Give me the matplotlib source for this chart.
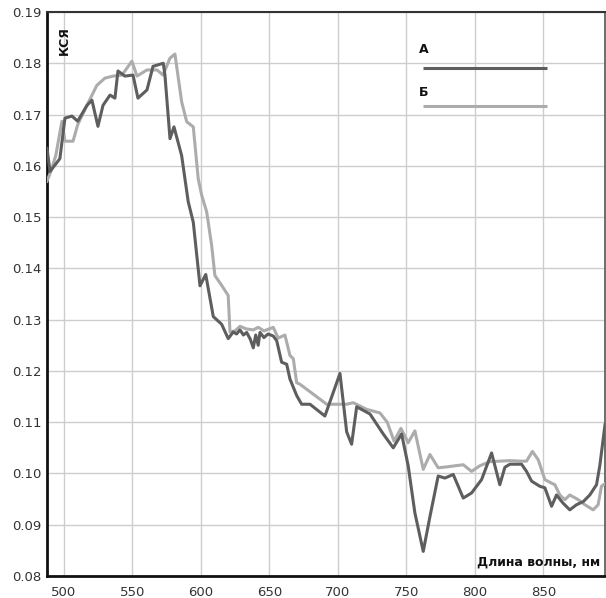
import matplotlib
matplotlib.use("Agg")
import matplotlib.pyplot as plt

# Series A (dark)
wl_a = [487.6, 489.8, 497.0, 500.7, 505.8, 510.0, 516.8, 520.4, 524.8, 528.5, 533.6, 537.2,
        539.4, 544.5, 550.4, 554.0, 560.6, 565.0, 572.5, 573.7, 577.4, 580.3, 585.9, 590.7,
        594.4, 599.3, 603.5, 609.0, 615.1, 619.9, 623.6, 626.0, 628.5, 631.0, 633.4, 636.0,
        638.2, 640.0, 641.8, 643.1, 646.0, 649.0, 652.8, 655.3, 658.9, 662.6, 665.0, 669.9,
        673.5, 679.6, 690.5, 701.5, 706.4, 710.0, 713.7, 723.4, 733.1, 740.4, 746.5, 751.3,
        756.2, 762.3, 767.2, 773.2, 778.1, 784.2, 791.5, 797.6, 804.9, 812.2, 818.2, 821.9,
        825.5, 834.1, 837.7, 841.4, 847.4, 851.1, 856.0, 859.6, 864.4, 869.3, 874.2, 879.1,
        883.9, 888.8, 891.2, 895.0]
ksya_a = [0.1634, 0.1589, 0.1614, 0.1693, 0.1697, 0.1687, 0.1718, 0.1728, 0.1677, 0.1718, 0.1738, 0.1732,
          0.1785, 0.1775, 0.1777, 0.1732, 0.1748, 0.1794, 0.1800, 0.1777, 0.1653, 0.1676, 0.1620, 0.1530,
          0.1490, 0.1366, 0.1388, 0.1306, 0.1291, 0.1263, 0.1276, 0.1272, 0.1280, 0.1270, 0.1275, 0.1262,
          0.1245, 0.1270, 0.1250, 0.1275, 0.1265, 0.1272, 0.1268, 0.1259, 0.1217, 0.1213, 0.1184, 0.1152,
          0.1135, 0.1135, 0.1112, 0.1195, 0.1081, 0.1057, 0.1130, 0.1116, 0.1077, 0.1050, 0.1077, 0.1015,
          0.0923, 0.0848, 0.0916, 0.0995, 0.0991, 0.0998, 0.0952, 0.0962, 0.0988, 0.1040, 0.0978, 0.1012,
          0.1018, 0.1018, 0.1004, 0.0985, 0.0975, 0.0972, 0.0936, 0.0958, 0.0942, 0.0929, 0.0939, 0.0945,
          0.0958, 0.0978, 0.1015, 0.1095]

# Series B (light)
wl_b = [487.6, 490.5, 494.0, 498.5, 500.7, 506.6, 510.0, 517.5, 524.0, 529.9, 535.8, 542.3,
        549.6, 553.3, 560.6, 567.9, 572.3, 577.4, 581.0, 585.9, 589.6, 594.4, 598.0, 600.5,
        604.2, 607.8, 610.2, 615.1, 619.9, 621.2, 624.8, 628.5, 633.0, 638.2, 641.8, 646.0,
        652.8, 656.4, 661.3, 665.0, 667.4, 669.9, 672.3, 691.8, 706.4, 711.2, 721.0, 730.7,
        736.0, 741.0, 746.0, 751.3, 756.2, 762.3, 767.2, 773.2, 780.0, 791.5, 797.6, 803.6,
        810.9, 818.2, 825.5, 834.0, 837.7, 842.0, 846.2, 851.1, 856.0, 858.4, 862.0, 865.7,
        869.3, 875.4, 880.3, 886.4, 890.0, 892.4, 895.0]
ksya_b = [0.1570, 0.1590, 0.1620, 0.1687, 0.1648, 0.1648, 0.1680, 0.1722, 0.1757, 0.1771, 0.1775, 0.1777,
          0.1804, 0.1775, 0.1787, 0.1787, 0.1777, 0.1810, 0.1818, 0.1725, 0.1686, 0.1676, 0.1575, 0.1543,
          0.1510, 0.1445, 0.1386, 0.1367, 0.1347, 0.1276, 0.1278, 0.1287, 0.1282, 0.1280, 0.1285, 0.1278,
          0.1285, 0.1264, 0.1270, 0.1230, 0.1224, 0.1177, 0.1174, 0.1135, 0.1135, 0.1138, 0.1125, 0.1118,
          0.1100, 0.1063, 0.1088, 0.1060, 0.1083, 0.1008, 0.1037, 0.1011, 0.1013, 0.1017, 0.1004, 0.1015,
          0.1023, 0.1024, 0.1025, 0.1024, 0.1024, 0.1043, 0.1027, 0.0988, 0.0981, 0.0978, 0.0958, 0.0949,
          0.0958, 0.0949, 0.0939, 0.0929, 0.0939, 0.0975, 0.0980]

x_ticks = [500, 550, 600, 650, 700, 750, 800, 850]
y_ticks = [0.08, 0.09, 0.10, 0.11, 0.12, 0.13, 0.14, 0.15, 0.16, 0.17, 0.18, 0.19]
series_labels = ["А", "Б"]
y_label = "КСЯ"
x_label = "Длина волны, нм"

col_a = "#5e5e5e"
col_b = "#acacac"

W, H = 606, 598
fig = plt.figure(figsize=(W / 100, H / 100), dpi=100)
ax = fig.add_axes([47 / W, 22 / H, 558 / W, 564 / H])

ax.plot(wl_b, ksya_b, color=col_b, lw=2.2, solid_joinstyle="round", zorder=3)
ax.plot(wl_a, ksya_a, color=col_a, lw=2.2, solid_joinstyle="round", zorder=4)

ax.set_xlim(487.6, 895.0)
ax.set_ylim(0.08, 0.19)
ax.set_xticks(x_ticks)
ax.set_yticks(y_ticks)
ax.set_xticklabels([str(v) for v in x_ticks])
ax.set_yticklabels([f"{v:.2f}" for v in y_ticks])
ax.tick_params(length=0, labelsize=9.5, colors="#333333")
ax.tick_params(axis="x", pad=7)
ax.tick_params(axis="y", pad=4)
ax.grid(True, color="#cdcdcd", lw=1.0, zorder=0)
ax.set_axisbelow(True)

for side in ("left", "bottom"):
    ax.spines[side].set_linewidth(2.0)
    ax.spines[side].set_color("#111111")
ax.spines["top"].set_linewidth(1.5)
ax.spines["top"].set_color("#333333")
ax.spines["right"].set_linewidth(1.2)
ax.spines["right"].set_color("#555555")

ax.text(0.0305, 0.95, y_label, rotation=90, fontsize=9, fontweight="bold",
        ha="center", va="center", transform=ax.transAxes, color="#111111")
ax.text(0.992, 0.024, x_label, fontsize=9, fontweight="bold",
        ha="right", va="center", transform=ax.transAxes, color="#111111")

# legend
for lbl, col, ty, ly in [(series_labels[0], col_a, 0.933, 0.901),
                         (series_labels[1], col_b, 0.858, 0.833)]:
    ax.text(0.666, ty, lbl, fontsize=9, fontweight="bold", ha="left", va="center",
            transform=ax.transAxes, color="#111111")
    ax.plot([0.674, 0.896], [ly, ly], color=col, lw=2.2, transform=ax.transAxes,
            solid_capstyle="butt")

fig.savefig("out.png", dpi=100)
